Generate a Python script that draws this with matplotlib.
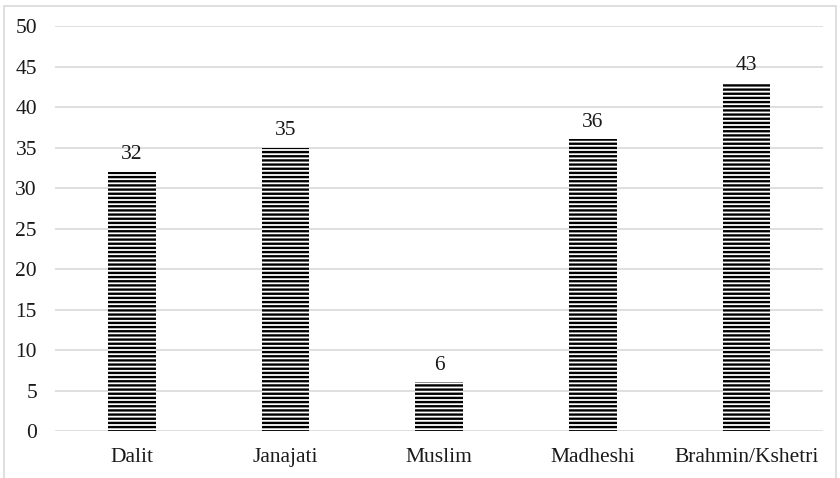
import matplotlib
matplotlib.use("Agg")
import matplotlib.pyplot as plt
from matplotlib.patches import Rectangle

categories = ["Dalit", "Janajati", "Muslim", "Madheshi", "Brahmin/Kshetri"]
values = [32, 35, 6, 36, 43]
yticks = [0, 5, 10, 15, 20, 25, 30, 35, 40, 45, 50]

plt.rcParams["font.family"] = ["Liberation Serif", "DejaVu Serif"]
plt.rcParams["hatch.linewidth"] = 1.7

fig = plt.figure(figsize=(8.4, 4.78), dpi=100)
ax = fig.add_axes([0.0655, 0.0983, 0.9145, 0.8473])

# outer chart frame
fig.patches.append(Rectangle((3.5 / 840, -0.1), 832 / 840, 1.1 - 5.5 / 478,
                             transform=fig.transFigure, fill=False,
                             edgecolor="#d9d9d9", linewidth=1.2))

x = range(len(categories))
bars = ax.bar(x, values, width=0.31, facecolor="white", edgecolor="black",
              linewidth=0, hatch="----", zorder=3)

for xi, v in zip(x, values):
    ax.annotate(str(v), (xi, v), xytext=(0, 5.5), textcoords="offset points",
                ha="center", va="bottom", fontsize=15.5, color="#1a1a1a")

ax.set_ylim(0, 50)
ax.set_xlim(-0.5, len(categories) - 0.5)
ax.set_yticks(yticks)
ax.set_xticks(list(x))
ax.set_xticklabels(categories)
ax.yaxis.grid(True, color="#d9d9d9", linewidth=1.2, zorder=0)
ax.set_axisbelow(True)
for s in ax.spines.values():
    s.set_visible(False)
ax.tick_params(axis="both", length=0, labelsize=15.5, colors="#1a1a1a")
ax.tick_params(axis="y", pad=13)
ax.tick_params(axis="x", pad=12)

fig.savefig("out.png", dpi=100)
